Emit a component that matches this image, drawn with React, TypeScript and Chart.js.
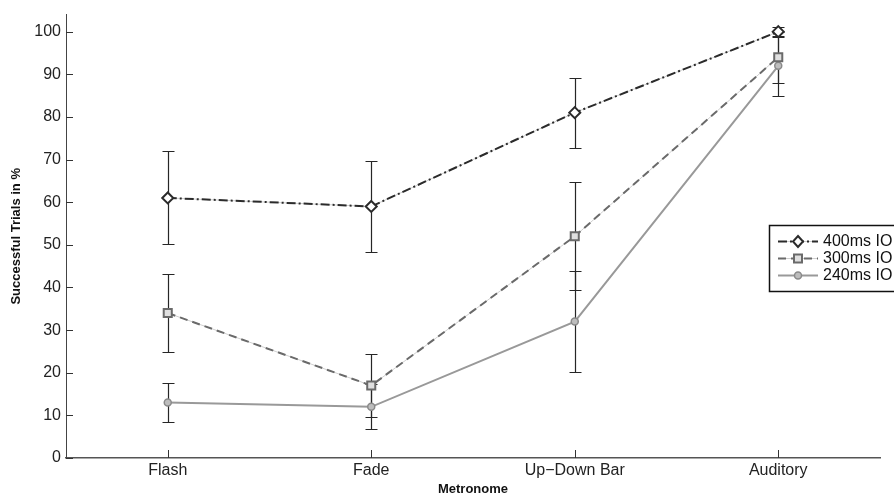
import React, { useEffect, useRef } from 'react';
import { Chart, registerables } from 'chart.js';

Chart.register(...registerables);

const categories = ['Flash', 'Fade', 'Up\u2212Down Bar', 'Auditory'];
const seriesLabels = ['400ms IO', '300ms IO', '240ms IO'];
const values400 = [61, 59, 81, 100];
const values300 = [34, 17, 52, 94];
const values240 = [13, 12, 32, 92];
const err400 = [10.9, 10.6, 8.2, 1.2];
const err300 = [9.2, 7.5, 12.7, 6];
const err240 = [4.5, 5.3, 11.8, 7];
const yTickValues = [0, 10, 20, 30, 40, 50, 60, 70, 80, 90, 100];
const yMax = 104;

const FONT = '"Liberation Sans", Arial, Helvetica, sans-serif';

const errorBarPlugin = {
  id: 'errorBars',
  beforeDatasetsDraw(chart: any) {
    const { ctx, scales } = chart;
    const xs = scales.x;
    const ys = scales.y;
    const series = [
      [values400, err400],
      [values300, err300],
      [values240, err240],
    ];
    ctx.save();
    ctx.strokeStyle = '#262626';
    ctx.lineWidth = 1.2;
    series.forEach(([vals, errs]) => {
      vals.forEach((v: number, i: number) => {
        const x = Math.round(xs.getPixelForValue(i)) + 0.5;
        const yt = Math.round(ys.getPixelForValue(v + errs[i])) + 0.5;
        const yb = Math.round(ys.getPixelForValue(v - errs[i])) + 0.5;
        ctx.beginPath();
        ctx.moveTo(x, yt);
        ctx.lineTo(x, yb);
        ctx.moveTo(x - 6, yt);
        ctx.lineTo(x + 6, yt);
        ctx.moveTo(x - 6, yb);
        ctx.lineTo(x + 6, yb);
        ctx.stroke();
      });
    });
    ctx.restore();
  },
};

const innerTicksPlugin = {
  id: 'innerTicks',
  afterDatasetsDraw(chart: any) {
    const { ctx, scales, chartArea } = chart;
    ctx.save();
    ctx.strokeStyle = '#333';
    ctx.lineWidth = 1;
    yTickValues.forEach((v) => {
      const y = Math.round(scales.y.getPixelForValue(v)) + 0.5;
      ctx.beginPath();
      ctx.moveTo(chartArea.left, y);
      ctx.lineTo(chartArea.left + 7, y);
      ctx.stroke();
    });
    categories.forEach((_, i) => {
      const x = Math.round(scales.x.getPixelForValue(i)) + 0.5;
      ctx.beginPath();
      ctx.moveTo(x, chartArea.bottom);
      ctx.lineTo(x, chartArea.bottom - 8);
      ctx.stroke();
    });
    ctx.restore();
  },
};

function drawMarker(ctx: CanvasRenderingContext2D, kind: string, x: number, y: number) {
  ctx.save();
  ctx.setLineDash([]);
  if (kind === 'diamond') {
    ctx.beginPath();
    ctx.moveTo(x, y - 5.5);
    ctx.lineTo(x + 5, y);
    ctx.lineTo(x, y + 5.5);
    ctx.lineTo(x - 5, y);
    ctx.closePath();
    ctx.fillStyle = '#fff';
    ctx.fill();
    ctx.strokeStyle = '#2b2b2b';
    ctx.lineWidth = 2;
    ctx.stroke();
  } else if (kind === 'square') {
    ctx.fillStyle = '#e0e0e0';
    ctx.fillRect(x - 4, y - 4, 8, 8);
    ctx.strokeStyle = '#6a6a6a';
    ctx.lineWidth = 2;
    ctx.strokeRect(x - 4, y - 4, 8, 8);
  } else {
    ctx.beginPath();
    ctx.arc(x, y, 3.5, 0, Math.PI * 2);
    ctx.fillStyle = '#bdbdbd';
    ctx.fill();
    ctx.strokeStyle = '#8a8a8a';
    ctx.lineWidth = 1.5;
    ctx.stroke();
  }
  ctx.restore();
}

const legendPlugin = {
  id: 'customLegend',
  afterDraw(chart: any) {
    const { ctx } = chart;
    const left = 769;
    const top = 225;
    const rowH = 17;
    const h = 66;
    ctx.save();
    ctx.fillStyle = '#fff';
    ctx.fillRect(left, top, 200, h);
    ctx.strokeStyle = '#111';
    ctx.lineWidth = 1.5;
    ctx.strokeRect(left + 0.5, top + 0.5, 200, h);
    const styles = [
      { color: '#2b2b2b', dash: [9, 3, 2, 3], under: true, marker: 'diamond' },
      { color: '#6a6a6a', dash: [8, 5], under: true, marker: 'square' },
      { color: '#999', dash: [], under: false, marker: 'circle' },
    ];
    seriesLabels.forEach((label, i) => {
      const y = top + 16 + i * rowH + 0.5;
      const st = styles[i];
      if (st.under) {
        ctx.setLineDash([]);
        ctx.strokeStyle = '#cfcfcf';
        ctx.lineWidth = 1;
        ctx.beginPath();
        ctx.moveTo(778, y);
        ctx.lineTo(818, y);
        ctx.stroke();
      }
      ctx.setLineDash(st.dash);
      ctx.strokeStyle = st.color;
      ctx.lineWidth = 2;
      ctx.beginPath();
      ctx.moveTo(778, y);
      ctx.lineTo(818, y);
      ctx.stroke();
      drawMarker(ctx, st.marker, 798, y);
      ctx.setLineDash([]);
      ctx.fillStyle = '#111';
      ctx.font = '16px ' + FONT;
      ctx.textBaseline = 'middle';
      ctx.textAlign = 'left';
      ctx.fillText(label, 823, y);
    });
    ctx.restore();
  },
};

export default function App() {
  const canvasRef = useRef<HTMLCanvasElement | null>(null);

  useEffect(() => {
    const canvas = canvasRef.current;
    if (!canvas) return;
    const chart = new Chart(canvas, {
      type: 'line',
      data: {
        labels: categories,
        datasets: [
          {
            label: seriesLabels[0],
            data: values400,
            borderColor: '#2b2b2b',
            borderWidth: 2,
            borderDash: [9, 3, 2, 3],
            pointStyle: 'rectRot',
            pointRadius: 5.5,
            pointBackgroundColor: '#ffffff',
            pointBorderColor: '#2b2b2b',
            pointBorderWidth: 2,
            tension: 0,
            fill: false,
            order: 0,
          },
          {
            label: seriesLabels[1],
            data: values300,
            borderColor: '#6a6a6a',
            borderWidth: 2,
            borderDash: [8, 5],
            pointStyle: 'rect',
            pointRadius: 5.7,
            pointBackgroundColor: '#e0e0e0',
            pointBorderColor: '#6a6a6a',
            pointBorderWidth: 2,
            tension: 0,
            fill: false,
            order: 0,
          },
          {
            label: seriesLabels[2],
            data: values240,
            borderColor: '#999999',
            borderWidth: 2,
            pointStyle: 'circle',
            pointRadius: 3.5,
            pointBackgroundColor: '#bdbdbd',
            pointBorderColor: '#8a8a8a',
            pointBorderWidth: 1.5,
            tension: 0,
            fill: false,
            order: 0,
          },
          {
            label: 'u400',
            data: values400,
            borderColor: '#cfcfcf',
            borderWidth: 1,
            pointRadius: 0,
            tension: 0,
            fill: false,
            order: 1,
          },
          {
            label: 'u300',
            data: values300,
            borderColor: '#cfcfcf',
            borderWidth: 1,
            pointRadius: 0,
            tension: 0,
            fill: false,
            order: 1,
          },
        ],
      },
      options: {
        responsive: false,
        animation: false,
        devicePixelRatio: 1,
        layout: { padding: { top: 9, right: 14, left: 0, bottom: 0 } },
        plugins: {
          legend: { display: false },
          tooltip: { enabled: false },
        },
        scales: {
          x: {
            type: 'category',
            offset: true,
            grid: { display: false, drawTicks: false },
            border: { display: true, color: '#555', width: 1.5 },
            ticks: {
              color: '#222',
              font: { family: FONT, size: 16 },
              padding: 3,
              maxRotation: 0,
              autoSkip: false,
            },
            title: {
              display: true,
              text: 'Metronome',
              color: '#111',
              font: { family: FONT, size: 13, weight: 'bold' },
              padding: { top: 0, bottom: 0 },
            },
            afterFit(scale: any) {
              scale.height = 39;
            },
          },
          y: {
            min: 0,
            max: yMax,
            grid: { display: false, drawTicks: false },
            border: { display: true, color: '#444', width: 1 },
            afterBuildTicks(scale: any) {
              scale.ticks = yTickValues.map((v) => ({ value: v }));
            },
            ticks: {
              color: '#222',
              font: { family: FONT, size: 16 },
              padding: 5,
            },
            title: {
              display: true,
              text: 'Successful Trials in %',
              color: '#111',
              font: { family: FONT, size: 13, weight: 'bold' },
              padding: { top: 9, bottom: 0 },
            },
            afterFit(scale: any) {
              scale.width = 66;
            },
          },
        },
      },
      plugins: [errorBarPlugin, innerTicksPlugin, legendPlugin],
    } as any);
    return () => chart.destroy();
  }, []);

  return (
    <div style={{ position: 'absolute', left: 0, top: 0, width: 894, height: 497, background: '#fff' }}>
      <canvas ref={canvasRef} width={894} height={497} style={{ width: 894, height: 497 }} />
    </div>
  );
}
